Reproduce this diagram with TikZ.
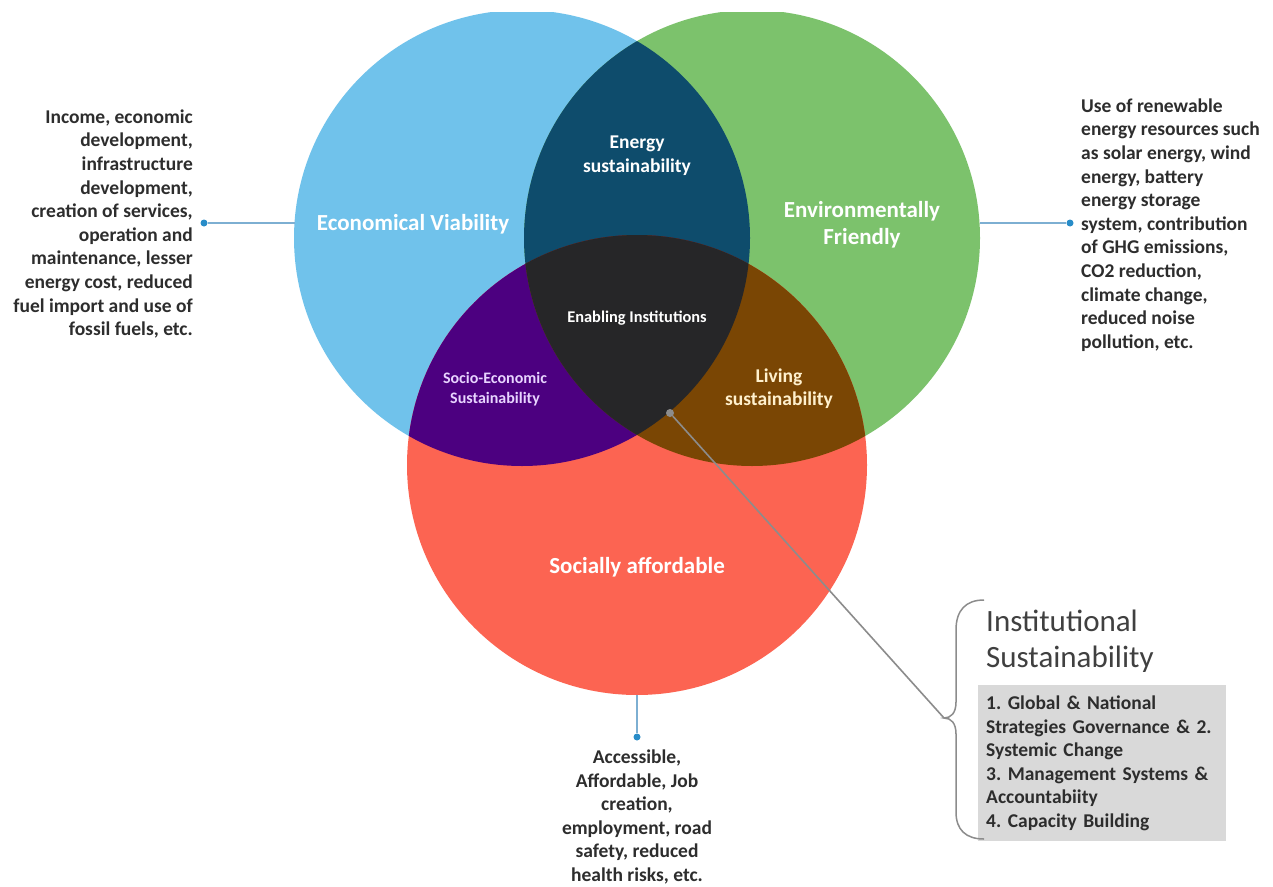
\documentclass[tikz,border=0pt]{standalone}
\usepackage{fontspec}
\setmainfont{Carlito}
\frenchspacing
\definecolor{cblue}{RGB}{112,194,235}
\definecolor{cgreen}{RGB}{124,194,108}
\definecolor{cred}{RGB}{252,100,82}
\definecolor{cdblue}{RGB}{14,76,108}
\definecolor{cpurple}{RGB}{76,0,128}
\definecolor{cbrown}{RGB}{122,70,4}
\definecolor{ccenter}{RGB}{38,38,40}
\definecolor{ctext}{RGB}{45,45,45}
\definecolor{cline}{RGB}{125,175,210}
\definecolor{cdot}{RGB}{40,140,200}
\definecolor{cgrayline}{RGB}{140,140,140}
\definecolor{cbox}{RGB}{217,217,217}
\definecolor{csocio}{RGB}{232,212,255}
\definecolor{cliving}{RGB}{255,240,205}
\begin{document}
\begin{tikzpicture}[x=1pt,y=-1pt,
  bodytext/.style={text=ctext,font=\frenchspacing\bfseries\fontsize{19.5}{23.6}\selectfont,inner sep=0pt},
  biglabel/.style={text=white,font=\bfseries\fontsize{23}{27}\selectfont,align=center,inner sep=0pt},
  midlabel/.style={text=white,font=\bfseries\fontsize{19.5}{24}\selectfont,align=center,inner sep=0pt},
  smalllabel/.style={text=white,font=\bfseries\fontsize{16}{19.5}\selectfont,align=center,inner sep=0pt},
  conn/.style={draw=cline,line width=2pt},
  bluedot/.style={circle,fill=cdot,inner sep=0pt,minimum size=7pt},
  graydot/.style={circle,fill=cgrayline,inner sep=0pt,minimum size=8pt},
  grayline/.style={draw=cgrayline,line width=1.6pt}]
\useasboundingbox (0,0) rectangle (1273,886);
\fill[white] (0,0) rectangle (1273,886);
\coordinate (B) at (522,238);
\coordinate (G) at (752,238);
\coordinate (R) at (637,465);
\begin{scope}
  \clip (0,12) rectangle (1273,886);
  \fill[cblue] (B) circle[radius=228];
  \fill[cgreen] (G) circle[radius=228];
  \fill[cred] (R) circle[radius=230];
  \begin{scope}
    \clip (B) circle[radius=228];
    \fill[cdblue] (G) circle[radius=228];
    \fill[cpurple] (R) circle[radius=230];
  \end{scope}
  \begin{scope}
    \clip (G) circle[radius=228];
    \fill[cbrown] (R) circle[radius=230];
    \begin{scope}
      \clip (B) circle[radius=228];
      \fill[ccenter] (R) circle[radius=230];
    \end{scope}
  \end{scope}
\end{scope}

% circle labels
\node[biglabel] (econ) at (413,224) {Economical Viability};
\node[biglabel] (env) at (862,225) {Environmentally\\Friendly};
\node[biglabel] (soc) at (637,567) {Socially affordable};
\node[midlabel] (energy) at (637,156) {Energy\\sustainability};
\node[text=white,font=\bfseries\fontsize{16.4}{19}\selectfont,inner sep=0pt] (enabling) at (637,318) {Enabling Institutions};
\node[smalllabel,text=csocio] (socio) at (495,389) {Socio-Economic\\Sustainability};
\node[midlabel,text=cliving,font=\bfseries\fontsize{19.5}{23}\selectfont] (living) at (779,389) {Living\\sustainability};

% connectors
\coordinate (Bw) at (294.5,223);
\coordinate (Ge) at (979.5,223);
\coordinate (Rs) at (637,695);
\node[bluedot] (ldot) at (204,223) {};
\node[bluedot] (rdot) at (1070,223) {};
\node[bluedot] (bdot) at (637,737) {};
\draw[conn] (Bw) -- (ldot);
\draw[conn] (Ge) -- (rdot);
\draw[conn] (Rs) -- (bdot);

% side texts
\node[bodytext,align=right,anchor=east] (ltext) at (193,224) {Income, economic\\development,\\infrastructure\\development,\\creation of services,\\operation and\\maintenance, lesser\\energy cost, reduced\\fuel import and use of\\fossil fuels, etc.};
\node[bodytext,align=left,anchor=west] (rtext) at (1081,225) {Use of renewable\\energy resources such\\as solar energy, wind\\energy, battery\\energy storage\\system, contribution\\of GHG emissions,\\CO2 reduction,\\climate change,\\reduced noise\\pollution, etc.};
\node[bodytext,align=center] (btext) at (637,817) {Accessible,\\Affordable, Job\\creation,\\employment, road\\safety, reduced\\health risks, etc.};

% institutional sustainability
\node[text={rgb,255:red,64;green,64;blue,64},font=\fontsize{31}{36}\selectfont,align=left,anchor=west,inner sep=0pt] (inst) at (986,641) {Institutional\\Sustainability};
\node[fill=cbox,anchor=north west,minimum width=248pt,minimum height=156pt,text width=232pt,inner ysep=0pt,align=left,bodytext,inner xsep=8pt] (box) at (978,685) {1. Global \& National\\Strategies Governance \& 2.\\Systemic Change\\3. Management Systems \&\\Accountabiity\\4. Capacity Building};

\coordinate (btip) at (944,718);
\draw[grayline,line width=1.5pt] (984,600) .. controls (966,600) and (956,610) .. (956,630) -- (956,702) .. controls (956,713) and (951,718) .. (btip) .. controls (951,718) and (956,723) .. (956,734) -- (956,812) .. controls (956,830) and (966,839) .. (984,839);
\node[graydot] (cdot) at (670,413) {};
\draw[grayline] (cdot) -- (btip);
\end{tikzpicture}
\end{document}
